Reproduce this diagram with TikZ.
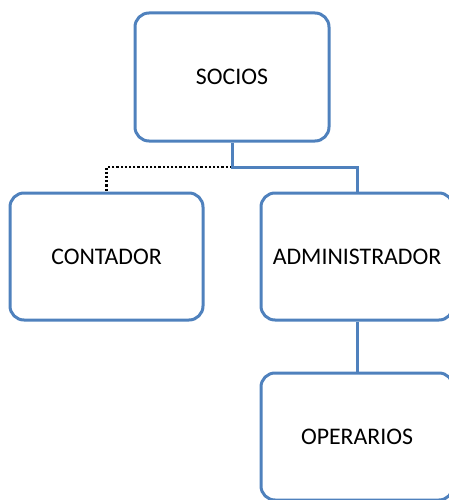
\documentclass[tikz,border=0pt]{standalone}
\usepackage{fontspec}
\setmainfont{Carlito}
\usetikzlibrary{positioning}
\definecolor{boxblue}{HTML}{4F81BD}
\begin{document}
\begin{tikzpicture}[x=1pt,y=-1pt]
        \tikzset{orgbox/.style={draw=boxblue,line width=3pt,rounded corners=14pt,
                minimum width=192pt,minimum height=127pt,inner sep=0pt,
                font=\fontsize{23.8}{28}\selectfont},
            link/.style={draw=boxblue,line width=3pt},
            dotlink/.style={draw=black,line width=2.5pt,dash pattern=on 2.2pt off 2pt}}
        \useasboundingbox (0,0) rectangle (449,500);
        \clip (0,0) rectangle (449,500);
        \node[orgbox,minimum width=194pt,minimum height=128pt] (socios) at (232,77) {SOCIOS};
        \node[orgbox,minimum width=193pt] (contador) at (106.5,256.5) {CONTADOR};
        \node[orgbox] (admin) at (357,256.5) {ADMINISTRADOR};
        \node[orgbox] (operarios) at (357,436.5) {OPERARIOS};
        \coordinate (split) at (232,167);
        \draw[dotlink] (split) -| (contador.north);
        \draw[link] (socios.south) -- (split) -| (admin.north);
        \draw[link] (admin) -- (operarios);
    \end{tikzpicture}
\end{document}
